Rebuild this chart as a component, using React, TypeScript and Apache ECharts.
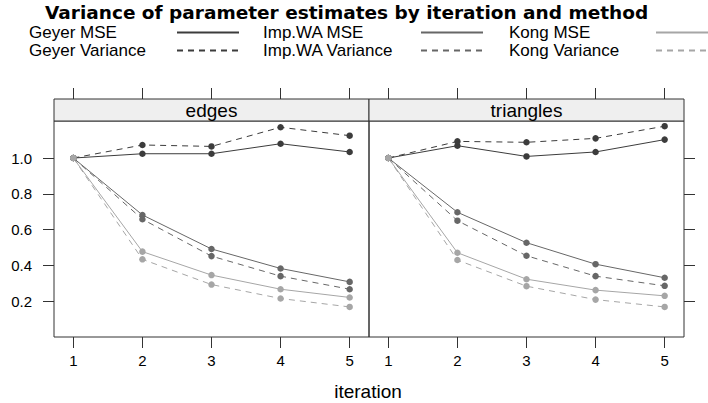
import React, { useEffect, useRef } from "react";
import * as echarts from "echarts";

const iterations = [1, 2, 3, 4, 5];
const panels = ["edges", "triangles"];
const methods = ["Geyer MSE", "Geyer Variance", "Imp.WA MSE", "Imp.WA Variance", "Kong MSE", "Kong Variance"];
const yTicks = [0.2, 0.4, 0.6, 0.8, 1.0];

// edges panel
const edgesGeyerMSE = [1.0, 1.024, 1.024, 1.08, 1.034];
const edgesGeyerVar = [1.0, 1.073, 1.065, 1.172, 1.125];
const edgesImpMSE = [1.0, 0.682, 0.492, 0.383, 0.308];
const edgesImpVar = [1.0, 0.658, 0.452, 0.34, 0.267];
const edgesKongMSE = [1.0, 0.477, 0.346, 0.267, 0.221];
const edgesKongVar = [1.0, 0.434, 0.293, 0.215, 0.168];

// triangles panel
const triGeyerMSE = [1.0, 1.069, 1.009, 1.034, 1.103];
const triGeyerVar = [1.0, 1.093, 1.088, 1.11, 1.178];
const triImpMSE = [1.0, 0.697, 0.527, 0.407, 0.331];
const triImpVar = [1.0, 0.65, 0.454, 0.34, 0.286];
const triKongMSE = [1.0, 0.471, 0.323, 0.262, 0.23];
const triKongVar = [1.0, 0.43, 0.284, 0.209, 0.168];

const panelData = [
  [edgesGeyerMSE, edgesGeyerVar, edgesImpMSE, edgesImpVar, edgesKongMSE, edgesKongVar],
  [triGeyerMSE, triGeyerVar, triImpMSE, triImpVar, triKongMSE, triKongVar],
];

const methodColors = ["#3c3c3c", "#3c3c3c", "#676767", "#676767", "#a6a6a6", "#a6a6a6"];
const methodDashed = [false, true, false, true, false, true];

const FONT = "'Liberation Sans', Arial, Helvetica, sans-serif";
const AX = "#333333";

export default function App() {
  const ref = useRef<HTMLDivElement>(null);

  useEffect(() => {
    if (!ref.current) return;
    const chart = echarts.init(ref.current, undefined, { renderer: "svg" });

    const gridLefts = [54, 369];
    const gridTop = 121;
    const gridW = 315;
    const gridH = 216;
    const stripH = 22;

    const grids = gridLefts.map((l) => ({
      left: l,
      top: gridTop,
      width: gridW,
      height: gridH,
      show: true,
      borderColor: AX,
      borderWidth: 1,
      backgroundColor: "transparent",
    }));

    const xAxes: any[] = [];
    panels.forEach((_, gi) => {
      xAxes.push({
        type: "value",
        gridIndex: gi,
        position: "bottom",
        min: 0.72,
        max: 5.28,
        axisLine: { show: false },
        splitLine: { show: false },
        axisTick: { show: true, length: 11, lineStyle: { color: AX }, customValues: iterations },
        axisLabel: {
          show: true,
          customValues: iterations,
          margin: 16,
          fontSize: 15,
          fontFamily: FONT,
          color: "#000",
        },
      });
      xAxes.push({
        type: "value",
        gridIndex: gi,
        position: "top",
        offset: stripH,
        min: 0.72,
        max: 5.28,
        axisLine: { show: false },
        splitLine: { show: false },
        axisTick: { show: true, length: 11, lineStyle: { color: AX }, customValues: iterations },
        axisLabel: { show: false },
      });
    });

    const yAxes = panels.map((_, gi) => ({
      type: "value",
      gridIndex: gi,
      position: gi === 0 ? "left" : "right",
      min: 0,
      max: 1.207,
      axisLine: { show: false },
      splitLine: { show: false },
      axisTick: { show: true, length: 11, lineStyle: { color: AX }, customValues: yTicks },
      axisLabel: {
        show: gi === 0,
        customValues: yTicks,
        margin: 22,
        fontSize: 15,
        fontFamily: FONT,
        color: "#000",
        formatter: (v: number) => v.toFixed(1),
      },
    }));

    const series: any[] = [];
    panels.forEach((_, gi) => {
      methods.forEach((m, mi) => {
        series.push({
          type: "line",
          name: m,
          xAxisIndex: gi * 2,
          yAxisIndex: gi,
          data: iterations.map((it, i) => [it, panelData[gi][mi][i]]),
          symbol: "circle",
          symbolSize: 6.5,
          showSymbol: true,
          itemStyle: { color: methodColors[mi] },
          lineStyle: {
            color: methodColors[mi],
            width: 1,
            type: methodDashed[mi] ? [6, 5] : "solid",
          },
          emphasis: { disabled: true },
        });
      });
    });

    const legendCols = [
      { left: 29, w: 143 },
      { left: 263, w: 153 },
      { left: 509, w: 142 },
    ];
    const legends = methods.map((m, mi) => {
      const col = legendCols[Math.floor(mi / 2)];
      const row = mi % 2;
      return {
        data: [m],
        left: col.left,
        top: row === 0 ? 24 : 42,
        orient: "horizontal",
        align: "right",
        padding: 0,
        itemGap: 0,
        itemWidth: 62,
        itemHeight: 14,
        selectedMode: false,
        formatter: "{a|{name}}",
        itemStyle: { opacity: 0 },
        textStyle: {
          fontFamily: FONT,
          fontSize: 17,
          color: "#000",
          rich: {
            a: { width: col.w, align: "left", fontFamily: FONT, fontSize: 17, lineHeight: 17, color: "#000" },
          },
        },
      };
    });

    const graphic: any[] = [];
    panels.forEach((p, gi) => {
      graphic.push({
        type: "rect",
        shape: { x: gridLefts[gi], y: gridTop - stripH, width: gridW, height: stripH },
        style: { fill: "#efefef", stroke: AX, lineWidth: 1 },
        z: 5,
      });
      graphic.push({
        type: "text",
        x: gridLefts[gi] + gridW / 2,
        y: gridTop - stripH / 2,
        style: {
          text: p,
          fontFamily: FONT,
          fontSize: 19,
          fill: "#000",
          align: "center",
          verticalAlign: "middle",
        },
        z: 6,
      });
    });
    graphic.push({
      type: "text",
      x: 368,
      y: 391,
      style: {
        text: "iteration",
        fontFamily: FONT,
        fontSize: 19,
        fill: "#000",
        align: "center",
        verticalAlign: "middle",
      },
    });

    chart.setOption({
      animation: false,
      backgroundColor: "#ffffff",
      title: {
        text: "Variance of parameter estimates by iteration and method",
        left: 45,
        top: 3,
        padding: 0,
        textStyle: {
          fontFamily: "'DejaVu Sans', sans-serif",
          fontWeight: "bold",
          fontSize: 18.5,
          color: "#000",
        },
      },
      legend: legends,
      grid: grids,
      xAxis: xAxes,
      yAxis: yAxes,
      series,
      graphic,
    });

    return () => chart.dispose();
  }, []);

  return (
    <div
      ref={ref}
      style={{ position: "fixed", left: 0, top: 0, width: 708, height: 403, background: "#fff" }}
    />
  );
}
